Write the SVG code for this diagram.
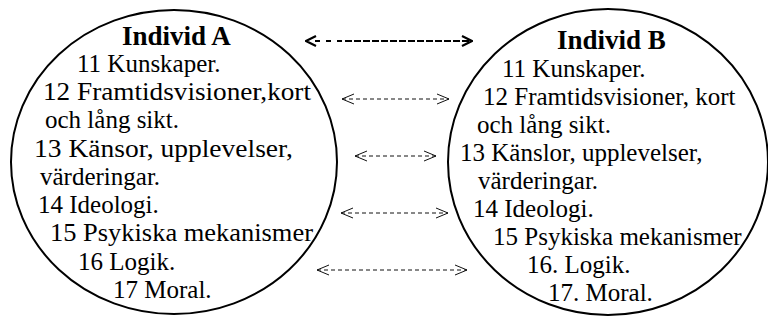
<svg xmlns="http://www.w3.org/2000/svg" width="768" height="321" viewBox="0 0 768 321">
<style>
.c{fill:none;stroke:#000;stroke-width:2}
.h{font-family:"Liberation Serif","Times New Roman",serif;font-weight:bold;font-size:27px;fill:#000}
.t{font-family:"Liberation Serif","Times New Roman",serif;font-size:25px;fill:#000}
.a{fill:none;stroke:#111;stroke-width:1;stroke-dasharray:4 3}
.ab{fill:none;stroke:#000;stroke-width:2.2}
</style>
<defs>
<marker id="m" viewBox="0 0 12 12" refX="12" refY="6" markerWidth="12" markerHeight="12" markerUnits="userSpaceOnUse" orient="auto-start-reverse">
<path d="M0,1 L12,6 L0,11" fill="none" stroke="#111" stroke-width="1"/>
</marker>
<marker id="mb" viewBox="0 0 12 12" refX="11" refY="6" markerWidth="12" markerHeight="12" markerUnits="userSpaceOnUse" orient="auto-start-reverse">
<path d="M1,1 L11,6 L1,11" fill="none" stroke="#000" stroke-width="2.2"/>
</marker>
</defs>
<g id="individA">
<ellipse class="c" cx="174" cy="162" rx="163" ry="152"/>
<text class="h" x="122" y="45">Individ A</text>
<text class="t" x="77" y="72">11 Kunskaper.</text>
<text class="t" x="43" y="100" textLength="268" lengthAdjust="spacingAndGlyphs">12 Framtidsvisioner,kort</text>
<text class="t" x="45" y="128">och lång sikt.</text>
<text class="t" x="34" y="157" textLength="259" lengthAdjust="spacingAndGlyphs">13 Känsor, upplevelser,</text>
<text class="t" x="40" y="185">värderingar.</text>
<text class="t" x="38" y="213">14 Ideologi.</text>
<text class="t" x="50" y="241" textLength="263" lengthAdjust="spacingAndGlyphs">15 Psykiska mekanismer</text>
<text class="t" x="78" y="270">16 Logik.</text>
<text class="t" x="113" y="298">17 Moral.</text>
</g>
<g id="individB">
<ellipse class="c" cx="608" cy="162" rx="160" ry="153"/>
<text class="h" x="557" y="49">Individ B</text>
<text class="t" x="502" y="77">11 Kunskaper.</text>
<text class="t" x="483" y="105">12 Framtidsvisioner, kort</text>
<text class="t" x="477" y="133">och lång sikt.</text>
<text class="t" x="460" y="161">13 Känslor, upplevelser,</text>
<text class="t" x="478" y="189">värderingar.</text>
<text class="t" x="473" y="217">14 Ideologi.</text>
<text class="t" x="493" y="245">15 Psykiska mekanismer</text>
<text class="t" x="527" y="273">16. Logik.</text>
<text class="t" x="548" y="301">17. Moral.</text>
</g>
<g id="connectors">
<path class="ab" d="M306,41 H472" stroke-dasharray="0 9 5 6 5 6 5 3 7 2 7 2 7 2 7 2 7 2 7 2 7 2 7 2 7 2 7 2 7 2 7 2 7 2 7 2 7 2 7 2" marker-start="url(#mb)" marker-end="url(#mb)"/>
<line class="a" x1="342" y1="99" x2="449" y2="99" marker-start="url(#m)" marker-end="url(#m)"/>
<line class="a" x1="355" y1="156" x2="436" y2="156" marker-start="url(#m)" marker-end="url(#m)"/>
<line class="a" x1="341" y1="213" x2="448" y2="213" marker-start="url(#m)" marker-end="url(#m)"/>
<line class="a" x1="317" y1="270" x2="467" y2="270" marker-start="url(#m)" marker-end="url(#m)"/>
</g>
</svg>
